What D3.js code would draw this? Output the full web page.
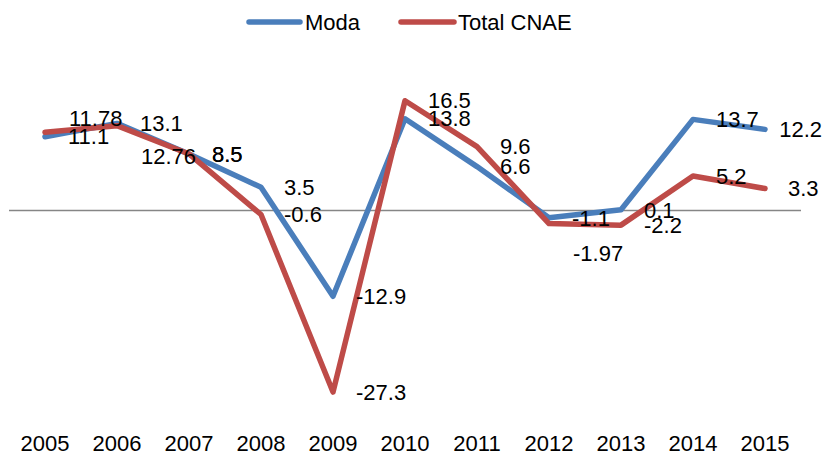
<!DOCTYPE html>
<html>
<head>
<meta charset="utf-8">
<script src="https://cdn.jsdelivr.net/npm/d3@7"></script>
<style>
  html, body { margin: 0; padding: 0; background: #fff; }
  svg { display: block; }
  text { font-family: "Liberation Sans", Arial, sans-serif; fill: #000; }
</style>
</head>
<body>
<svg id="chart" width="824" height="453"></svg>
<script>
// Annual growth rates (%), 2005-2015
const years = ["2005", "2006", "2007", "2008", "2009", "2010", "2011", "2012", "2013", "2014", "2015"];
const moda = [11.1, 13.1, 8.5, 3.5, -12.9, 13.8, 6.6, -1.1, 0.1, 13.7, 12.2];
const totalCnae = [11.78, 12.76, 8.5, -0.6, -27.3, 16.5, 9.6, -1.97, -2.2, 5.2, 3.3];
const seriesNames = ["Moda", "Total CNAE"];

// Label nudges (px) for a few overlapping value labels, keyed by series/year
const labelNudge = {
  "Total CNAE|2005": { dx: 1, dy: -14 },
  "Total CNAE|2006": { dx: 1, dy: 31 },
  "Total CNAE|2012": { dx: 1, dy: 30 }
};

const W = 824, H = 453;
const colors = { "Moda": "#4A7EBB", "Total CNAE": "#BE4B48" };
const series = [
  { name: seriesNames[0], values: moda },
  { name: seriesNames[1], values: totalCnae }
];

const svg = d3.select("#chart");

const x = d3.scaleBand().domain(years).range([9, 801]).paddingInner(0).paddingOuter(0);
const cx = d => x(d) + x.bandwidth() / 2;
const y = d3.scaleLinear().domain([-30, 20]).range([410, 77.5]);

// Zero axis line
svg.append("line")
  .attr("x1", 9).attr("x2", 801)
  .attr("y1", y(0)).attr("y2", y(0))
  .attr("stroke", "#868686").attr("stroke-width", 1.5);

// Category axis labels
const xAxis = d3.axisBottom(x).tickSize(0).tickPadding(0);
const gx = svg.append("g").attr("transform", "translate(0,0)").call(xAxis);
gx.select(".domain").remove();
gx.selectAll("text")
  .attr("y", 451).attr("dy", null)
  .style("font-family", "Liberation Sans, Arial, sans-serif")
  .style("font-size", "22px")
  .attr("fill", "#000");

// Lines
const line = d3.line()
  .x((d, i) => cx(years[i]))
  .y(d => y(d));

series.forEach(s => {
  svg.append("path")
    .datum(s.values)
    .attr("d", line)
    .attr("fill", "none")
    .attr("stroke", colors[s.name])
    .attr("stroke-width", 5.5)
    .attr("stroke-linejoin", "round")
    .attr("stroke-linecap", "round");
});

// Value labels, placed to the right of each point
const labels = svg.append("g");
series.forEach(s => {
  s.values.forEach((v, i) => {
    const nudge = labelNudge[s.name + "|" + years[i]] || { dx: 0, dy: 0 };
    const t = labels.append("text")
      .attr("x", cx(years[i]) + 23 + nudge.dx)
      .attr("y", y(v) + nudge.dy)
      .attr("dy", "0.35em")
      .style("font-size", "22px")
      .text(String(v));
    const w = t.node().getComputedTextLength();
    const xPos = +t.attr("x");
    if (xPos + w > W - 2) t.attr("x", W - 2 - w);
  });
});

// Legend
const legend = svg.append("g");
const legendItems = [
  { name: seriesNames[0], x0: 249, x1: 300, tx: 305 },
  { name: seriesNames[1], x0: 401, x1: 454, tx: 458 }
];
legendItems.forEach(it => {
  legend.append("line")
    .attr("x1", it.x0).attr("x2", it.x1)
    .attr("y1", 22).attr("y2", 22)
    .attr("stroke", colors[it.name])
    .attr("stroke-width", 5.5)
    .attr("stroke-linecap", "round");
  legend.append("text")
    .attr("x", it.tx).attr("y", 22).attr("dy", "0.35em")
    .style("font-size", "22px")
    .text(it.name);
});
</script>
</body>
</html>
